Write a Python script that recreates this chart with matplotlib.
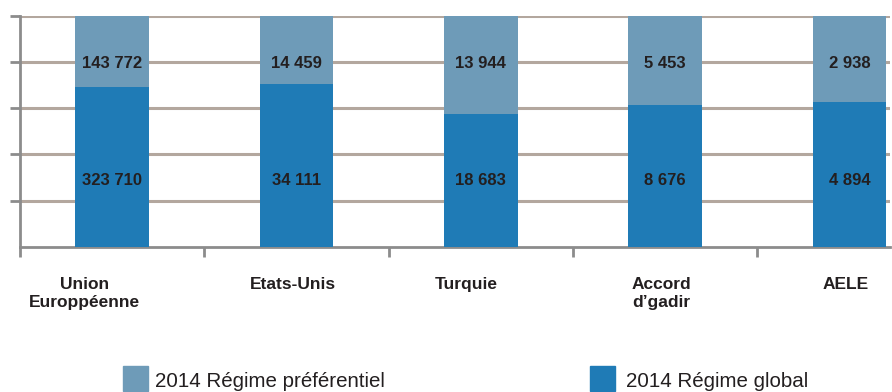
import numpy as np
import matplotlib
matplotlib.use("Agg")
import matplotlib.pyplot as plt

plt.rcParams['font.family'] = ['Liberation Sans', 'DejaVu Sans']

# data
categories = ["Union\nEuroppéenne", "Etats-Unis", "Turquie", "Accord\nd\u2019gadir", "AELE"]
regime_global = [323710, 34111, 18683, 8676, 4894]
regime_pref = [143772, 14459, 13944, 5453, 2938]
series_names = ["2014 Régime préférentiel", "2014 Régime global"]

C_GLOBAL = "#1f7bb6"
C_PREF = "#6e9bb8"
C_TEXT = "#231f20"
C_GRID = "#b3a79e"
C_AXIS = "#8c8c8c"

def fmt(v):
    return f"{v:,}".replace(",", " ")

g = np.array(regime_global, dtype=float)
p = np.array(regime_pref, dtype=float)
tot = g + p
g_share = g / tot
p_share = p / tot

W, H = 892, 392
fig = plt.figure(figsize=(W / 100, H / 100), dpi=100)
ax = fig.add_axes([20 / W, (H - 246.7) / H, 870 / W, 231 / H])

x = np.arange(len(categories))
ax.bar(x, g_share, width=0.4, color=C_GLOBAL, zorder=3)
ax.bar(x, p_share, width=0.4, bottom=g_share, color=C_PREF, zorder=3)

for xi, gv, pv in zip(x, regime_global, regime_pref):
    ax.text(xi, 0.285, fmt(gv), ha="center", va="center", fontsize=12,
            fontweight="bold", color=C_TEXT, zorder=4)
    ax.text(xi, 0.795, fmt(pv), ha="center", va="center", fontsize=12,
            fontweight="bold", color=C_TEXT, zorder=4)

ax.set_xlim(-0.5, 4.22)
ax.set_ylim(0, 1.0)
ax.set_yticks([0.2, 0.4, 0.6, 0.8, 1.0])
ax.set_yticklabels([])
ax.set_xticks([-0.5, 0.5, 1.5, 2.5, 3.5])
ax.set_xticklabels([])
ax.yaxis.grid(True, color=C_GRID, lw=2.2, zorder=1)
ax.tick_params(axis="both", length=7, width=2, color=C_AXIS, direction="out")
for s in ["top", "right"]:
    ax.spines[s].set_visible(False)
for s in ["left", "bottom"]:
    ax.spines[s].set_color(C_AXIS)
    ax.spines[s].set_linewidth(2)

# category labels under the axis
label_dx = [-0.15, -0.02, -0.08, -0.02, -0.02]
for xi, lab, dx in zip(x, categories, label_dx):
    ax.text(xi + dx, -0.13, lab, ha="center", va="top", fontsize=12.5,
            fontweight="bold", color=C_TEXT, linespacing=1.3,
            transform=ax.transData, clip_on=False)

# legend
fig.patches.append(plt.Rectangle((123 / W, (H - 391) / H), 25 / W, 25 / H,
                                 color=C_PREF, transform=fig.transFigure))
fig.text(155 / W, (H - 387) / H, series_names[0], fontsize=14.8,
         color=C_TEXT, va="baseline")
fig.patches.append(plt.Rectangle((590 / W, (H - 391) / H), 25 / W, 25 / H,
                                 color=C_GLOBAL, transform=fig.transFigure))
fig.text(626 / W, (H - 387) / H, series_names[1], fontsize=14.8,
         color=C_TEXT, va="baseline")

fig.savefig("out.png", dpi=100)
